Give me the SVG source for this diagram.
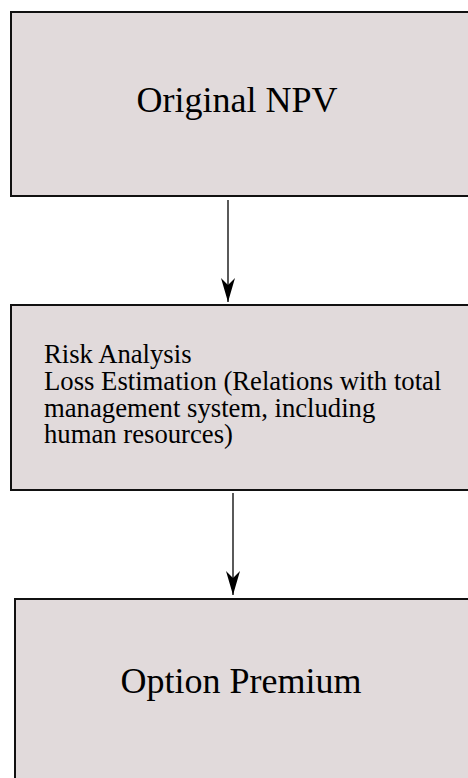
<svg xmlns="http://www.w3.org/2000/svg" width="468" height="778" viewBox="0 0 468 778">
  <style>
    .box { fill: #e1dadb; stroke: #111111; stroke-width: 2; }
    .big { font-family: "Liberation Serif", "Times New Roman", serif; font-size: 36px; fill: #000; text-anchor: middle; }
    .body { font-family: "Liberation Serif", "Times New Roman", serif; font-size: 26.7px; fill: #000; }
    .link { stroke: #000; stroke-width: 1.3; fill: none; marker-end: url(#head); }
  </style>
  <defs>
    <marker id="head" markerUnits="userSpaceOnUse" viewBox="-25 -8 26 16" markerWidth="26" markerHeight="16" refX="0" refY="0" orient="auto">
      <path d="M0,0 L-24,-7 L-17,0 L-24,7 Z" fill="#000"/>
    </marker>
  </defs>
  <rect width="468" height="778" fill="#ffffff"/>

  <g id="original-npv">
    <rect class="box" x="11" y="12" width="470" height="184"/>
    <text class="big" x="237" y="112">Original NPV</text>
  </g>

  <g id="risk-analysis">
    <rect class="box" x="11" y="305" width="470" height="185"/>
    <text class="body" x="44" y="363">Risk Analysis</text>
    <text class="body" x="44" y="390">Loss Estimation (Relations with total</text>
    <text class="body" x="44" y="417">management system, including</text>
    <text class="body" x="44" y="443">human resources)</text>
  </g>

  <g id="option-premium">
    <rect class="box" x="15" y="599" width="470" height="200"/>
    <text class="big" x="241" y="693">Option Premium</text>
  </g>

  <g id="connectors">
    <line class="link" x1="228" y1="200" x2="228" y2="302"/>
    <line class="link" x1="233" y1="493" x2="233" y2="595"/>
  </g>
</svg>
